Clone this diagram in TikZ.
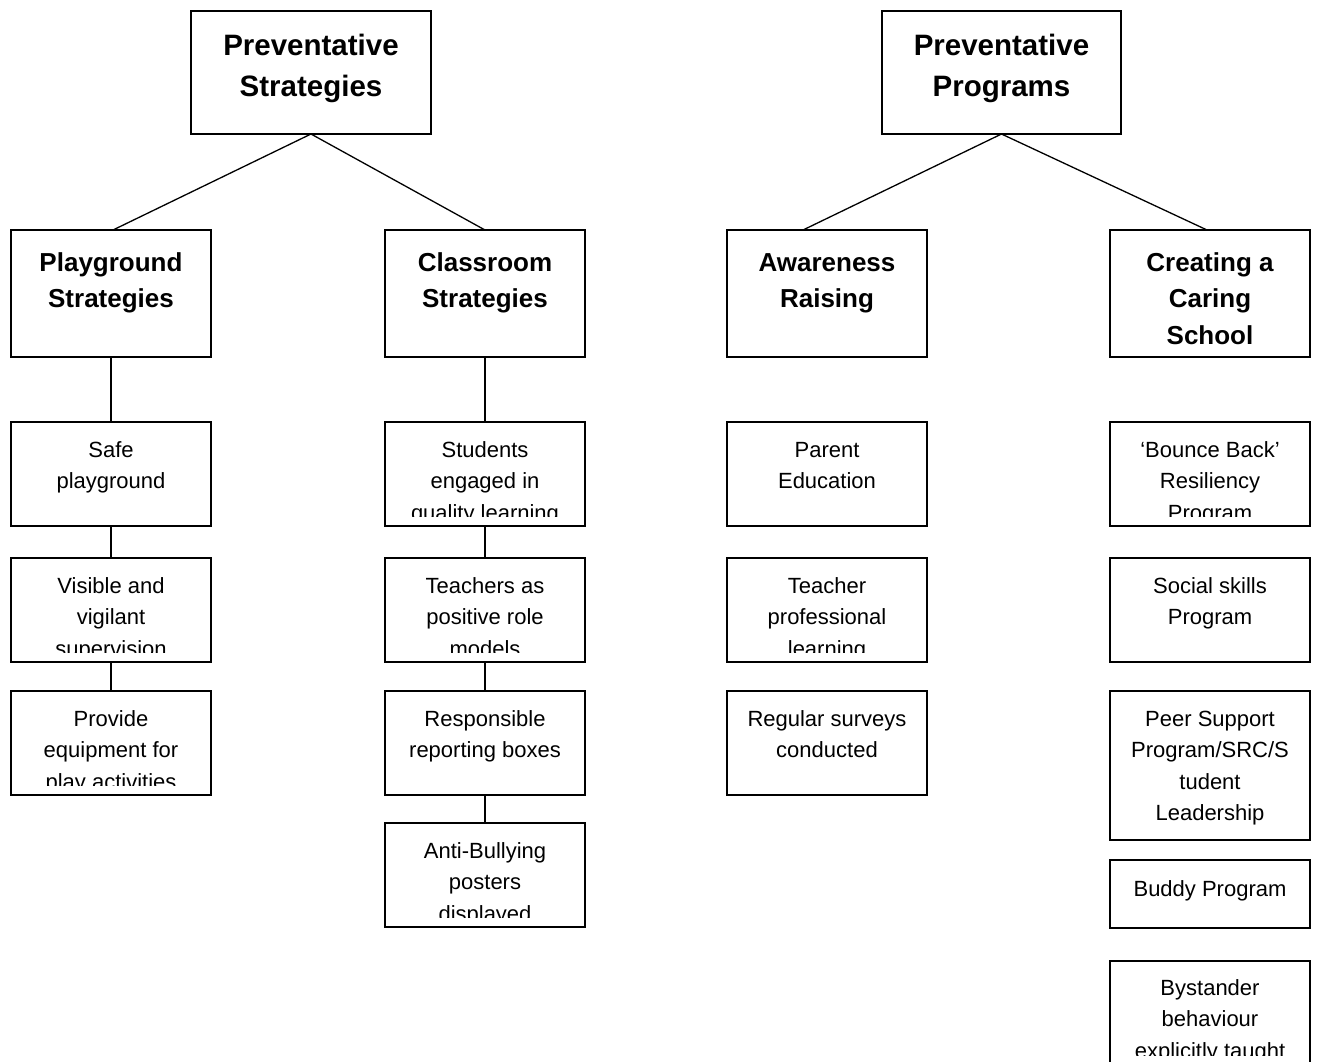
\documentclass[tikz,border=0pt]{standalone}
\usepackage{fontspec}
\setmainfont{Liberation Sans}
\tikzset{
  boxline/.style={draw=black, line width=1.7pt, inner sep=0pt, outer sep=0pt, anchor=north west},
  conn/.style={draw=black, line width=1.3pt},
  regtxt/.style={align=center, inner sep=0pt, font=\fontsize{22}{31.5}\selectfont},
  subtxt/.style={align=center, inner sep=0pt, font=\bfseries\fontsize{26}{36.5}\selectfont},
  toptxt/.style={align=center, inner sep=0pt, font=\bfseries\fontsize{29.5}{41}\selectfont},
}
% #1 name, #2 x, #3 y, #4 width, #5 height, #6 text style, #7 offset of text top, #8 text
\newcommand\mkbox[8]{%
  \node[boxline, minimum width=#4pt, minimum height=#5pt] (#1) at (#2,#3) {};
  \begin{scope}
    \clip ([yshift=10pt]#1.south west) rectangle (#1.north east);
    \node[#6, anchor=north] (#1-t) at ([yshift=-#7pt]#1.north) {\strut #8};
  \end{scope}}
\begin{document}
\begin{tikzpicture}[x=1pt, y=-1pt]
\useasboundingbox (0,0) rectangle (1317,1061);
% top level
\mkbox{ts}{191}{11}{240}{123}{toptxt}{15.3}{Preventative\\Strategies}
\mkbox{tp}{882}{11}{239}{123}{toptxt}{15.3}{Preventative\\Programs}
% second level
\mkbox{pg}{11}{230}{200}{127}{subtxt}{15.5}{Playground\\Strategies}
\mkbox{cr}{385}{230}{200}{127}{subtxt}{15.5}{Classroom\\Strategies}
\mkbox{aw}{727}{230}{200}{127}{subtxt}{15.5}{Awareness\\Raising}
\mkbox{cs}{1110}{230}{200}{127}{subtxt}{15.5}{Creating a\\Caring\\School}
% playground column
\mkbox{s1}{11}{422}{200}{104}{regtxt}{13}{Safe\\playground}
\mkbox{s2}{11}{558}{200}{104}{regtxt}{13}{Visible and\\vigilant\\supervision}
\mkbox{s3}{11}{691}{200}{104}{regtxt}{13}{Provide\\equipment for\\play activities}
% classroom column
\mkbox{c1}{385}{422}{200}{104}{regtxt}{13}{Students\\engaged in\\quality learning}
\mkbox{c2}{385}{558}{200}{104}{regtxt}{13}{Teachers as\\positive role\\models}
\mkbox{c3}{385}{691}{200}{104}{regtxt}{13}{Responsible\\reporting boxes}
\mkbox{c4}{385}{823}{200}{104}{regtxt}{13}{Anti-Bullying\\posters\\displayed}
% awareness column
\mkbox{a1}{727}{422}{200}{104}{regtxt}{13}{Parent\\Education}
\mkbox{a2}{727}{558}{200}{104}{regtxt}{13}{Teacher\\professional\\learning}
\mkbox{a3}{727}{691}{200}{104}{regtxt}{13}{Regular surveys\\conducted}
% caring school column
\mkbox{r1}{1110}{422}{200}{104}{regtxt}{13}{‘Bounce Back’\\Resiliency\\Program}
\mkbox{r2}{1110}{558}{200}{104}{regtxt}{13}{Social skills\\Program}
\mkbox{r3}{1110}{691}{200}{149}{regtxt}{13}{Peer Support\\Program/SRC/S\\tudent\\Leadership}
\mkbox{r4}{1110}{860}{200}{68}{regtxt}{14}{Buddy Program}
\mkbox{r5}{1110}{961}{200}{104}{regtxt}{12}{Bystander\\behaviour\\explicitly taught}
% connectors
\draw[conn] (ts.south) -- ([xshift=2pt]pg.north);
\draw[conn] (ts.south) -- (cr.north);
\draw[conn] (tp.south) -- ([xshift=-24pt]aw.north);
\draw[conn] (tp.south) -- ([xshift=-3pt]cs.north);
\draw[conn] (pg.south) -- (s1.north);
\draw[conn] (s1.south) -- (s2.north);
\draw[conn] (s2.south) -- (s3.north);
\draw[conn] (cr.south) -- (c1.north);
\draw[conn] (c1.south) -- (c2.north);
\draw[conn] (c2.south) -- (c3.north);
\draw[conn] (c3.south) -- (c4.north);
\end{tikzpicture}
\end{document}
